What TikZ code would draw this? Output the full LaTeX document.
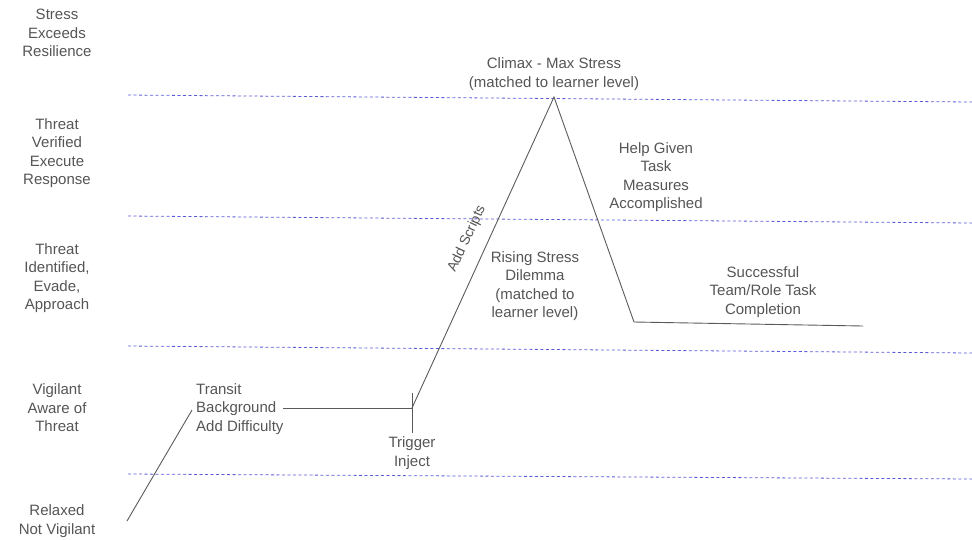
\documentclass[tikz,border=0pt]{standalone}
\usepackage{fontspec}
\setmainfont{Liberation Sans}
\definecolor{txtgray}{HTML}{555555}
\definecolor{lngray}{HTML}{5A5A5A}
\definecolor{lvlblue}{HTML}{5C5CD8}
\begin{document}
\begin{tikzpicture}[x=1pt,y=-1pt,
  lbl/.style={text=txtgray, font=\fontsize{15}{18.5}\selectfont, align=center, inner sep=0pt},
  level/.style={draw=lvlblue, dash pattern=on 3pt off 2.5pt, line width=0.8pt},
  curve/.style={draw=lngray, line width=0.9pt}]
\useasboundingbox (0,0) rectangle (972,539);
% level lines
\coordinate (l1a) at (128,95);  \coordinate (l1b) at (972,102);
\coordinate (l2a) at (128,216); \coordinate (l2b) at (972,223);
\coordinate (l3a) at (128,346); \coordinate (l3b) at (972,353);
\coordinate (l4a) at (128,474); \coordinate (l4b) at (972,479);
\draw[level] (l1a) -- (l1b);
\draw[level] (l2a) -- (l2b);
\draw[level] (l3a) -- (l3b);
\draw[level] (l4a) -- (l4b);
% level labels
\node[lbl] (stress) at (57,33) {Stress\\Exceeds\\Resilience};
\node[lbl] (verified) at (57,153) {Threat\\Verified\\Execute\\Response};
\node[lbl] (identified) at (57,278) {Threat\\Identified,\\Evade,\\Approach};
\node[lbl] (vigilant) at (57,408) {Vigilant\\Aware of\\Threat};
\node[lbl] (relaxed) at (57,521) {Relaxed\\Not Vigilant};
% story points
\coordinate (start) at (127,521);
\coordinate (tin) at (192,410);
\node[lbl, align=left, anchor=west] (transit) at (196,409) {Transit\\Background\\Add Difficulty};
\coordinate (hstart) at (283,408);
\coordinate (trig) at (412,408);
\coordinate (tickt) at (412,393);
\coordinate (tickb) at (412,433);
\node[lbl] (trigger) at (412,453) {Trigger\\Inject};
\coordinate (peak) at (554,97);
\coordinate (low) at (634,322);
\coordinate (finish) at (863,326);
\node[lbl] (climax) at (554,74) {Climax - Max Stress\\(matched to learner level)};
\node[lbl] (help) at (656,177) {Help Given\\Task\\Measures\\Accomplished};
\node[lbl] (rising) at (535,286) {Rising Stress\\Dilemma\\(matched to\\learner level)};
\node[lbl] (success) at (763,292) {Successful\\Team/Role Task\\Completion};
\node[lbl, font=\fontsize{14}{17}\selectfont, rotate=65] (scripts) at (467,239) {Add Scripts};
% story line
\draw[curve] (start) -- (tin);
\draw[curve] (hstart) -- (trig);
\draw[curve] (tickt) -- (tickb);
\draw[curve] (trig) -- (peak) -- (low) -- (finish);
\end{tikzpicture}
\end{document}
